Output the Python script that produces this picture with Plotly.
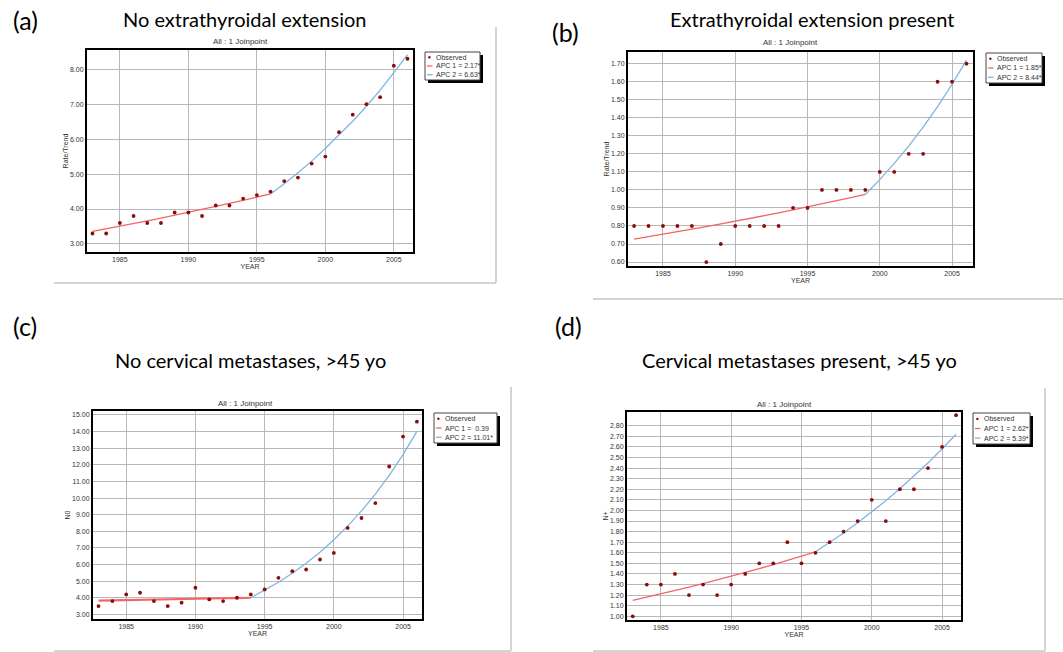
import plotly.graph_objects as go

W, H = 1063, 652

# ---------------- data ----------------
years = list(range(1983, 2007))
x_tick_vals = [1985, 1990, 1995, 2000, 2005]

# (a) No extrathyroidal extension
obs_a = [3.3, 3.3, 3.6, 3.8, 3.6, 3.6, 3.9, 3.9, 3.8, 4.1, 4.1, 4.3,
         4.4, 4.5, 4.8, 4.9, 5.3, 5.5, 6.2, 6.7, 7.0, 7.2, 8.1, 8.3]
seg1_years_a = list(range(1983, 1997))
seg1_a = [3.36, 3.43, 3.51, 3.58, 3.66, 3.74, 3.82, 3.90, 3.99, 4.07, 4.16, 4.25, 4.34, 4.43]
seg2_years_a = list(range(1996, 2007))
seg2_a = [4.43, 4.72, 5.04, 5.37, 5.73, 6.11, 6.51, 6.94, 7.40, 7.90, 8.42]
yticks_a = [3.0, 4.0, 5.0, 6.0, 7.0, 8.0]
apc_a = ["APC 1 = 2.17*", "APC 2 = 6.63*"]

# (b) Extrathyroidal extension present
obs_b = [0.8, 0.8, 0.8, 0.8, 0.8, 0.6, 0.7, 0.8, 0.8, 0.8, 0.8, 0.9,
         0.9, 1.0, 1.0, 1.0, 1.0, 1.1, 1.1, 1.2, 1.2, 1.6, 1.6, 1.7]
seg1_years_b = list(range(1983, 2000))
seg1_b = [0.727, 0.740, 0.754, 0.768, 0.782, 0.797, 0.811, 0.826, 0.842,
          0.857, 0.873, 0.889, 0.906, 0.923, 0.940, 0.957, 0.975]
seg2_years_b = list(range(1999, 2007))
seg2_b = [0.975, 1.057, 1.147, 1.243, 1.348, 1.462, 1.586, 1.720]
yticks_b = [0.6, 0.7, 0.8, 0.9, 1.0, 1.1, 1.2, 1.3, 1.4, 1.5, 1.6, 1.7]
apc_b = ["APC 1 = 1.85*", "APC 2 = 8.44*"]

# (c) No cervical metastases, >45 yo
obs_c = [3.5, 3.8, 4.2, 4.3, 3.8, 3.5, 3.7, 4.6, 3.9, 3.8, 4.0, 4.2,
         4.5, 5.2, 5.6, 5.7, 6.3, 6.7, 8.2, 8.8, 9.7, 11.9, 13.7, 14.6]
seg1_years_c = list(range(1983, 1995))
seg1_c = [3.83, 3.85, 3.86, 3.88, 3.89, 3.91, 3.92, 3.94, 3.95, 3.97, 3.98, 4.00]
seg2_years_c = list(range(1994, 2007))
seg2_c = [4.00, 4.44, 4.93, 5.47, 6.07, 6.74, 7.49, 8.31, 9.23, 10.24, 11.37, 12.62, 14.01]
yticks_c = [3.0, 4.0, 5.0, 6.0, 7.0, 8.0, 9.0, 10.0, 11.0, 12.0, 13.0, 14.0, 15.0]
apc_c = ["APC 1 =  0.39", "APC 2 = 11.01*"]

# (d) Cervical metastases present, >45 yo
obs_d = [1.0, 1.3, 1.3, 1.4, 1.2, 1.3, 1.2, 1.3, 1.4, 1.5, 1.5, 1.7,
         1.5, 1.6, 1.7, 1.8, 1.9, 2.1, 1.9, 2.2, 2.2, 2.4, 2.6, 2.9]
seg1_years_d = list(range(1983, 1997))
seg1_d = [1.150, 1.180, 1.211, 1.243, 1.275, 1.309, 1.343, 1.378, 1.414,
          1.451, 1.489, 1.528, 1.568, 1.609]
seg2_years_d = list(range(1996, 2007))
seg2_d = [1.609, 1.696, 1.787, 1.884, 1.985, 2.092, 2.205, 2.324, 2.449, 2.581, 2.720]
yticks_d = [1.0, 1.1, 1.2, 1.3, 1.4, 1.5, 1.6, 1.7, 1.8, 1.9, 2.0, 2.1,
            2.2, 2.3, 2.4, 2.5, 2.6, 2.7, 2.8]
apc_d = ["APC 1 = 2.62*", "APC 2 = 5.39*"]

# ---------------- styling / layout ----------------
OBS_COLOR = "#8b0a0a"
RED = "#f46464"
BLUE = "#80b4e2"
TXT = "#333333"
SMALL_FONT = "Liberation Sans, Arial, sans-serif"
BIG_FONT = "Lato, Noto Sans, sans-serif"


def fx(px):
    return px / W


def fy(py):
    return 1 - py / H


panels = [
    dict(label="(a)", label_xy=(25, 20), title="No extrathyroidal extension", title_xy=(244, 19),
         sub_xy=(240, 42), box=(87, 50, 413, 252), xr=[1982.6, 2006.4], yr=[2.77, 8.55],
         obs=obs_a, s1x=seg1_years_a, s1=seg1_a, s2x=seg2_years_a, s2=seg2_a,
         yt=yticks_a, ytitle="Rate/Trend", apc=apc_a, leg=(425, 52, 480, 80), red_w=1.3,
         frame=[((54, 283), (496, 283)), ((496, 27), (496, 283))]),
    dict(label="(b)", label_xy=(565, 32), title="Extrathyroidal extension present", title_xy=(812, 19),
         sub_xy=(790, 43), box=(628, 52, 973, 266), xr=[1982.58, 2006.45], yr=[0.578, 1.765],
         obs=obs_b, s1x=seg1_years_b, s1=seg1_b, s2x=seg2_years_b, s2=seg2_b,
         yt=yticks_b, ytitle="Rate/Trend", apc=apc_b, leg=(986, 53, 1042, 83), red_w=1.3,
         frame=[((593, 299), (1063, 299))]),
    dict(label="(c)", label_xy=(25, 326), title="No cervical metastases, >45 yo", title_xy=(250, 360),
         sub_xy=(245, 403), box=(93, 411, 422, 619), xr=[1982.6, 2006.37], yr=[2.72, 15.24],
         obs=obs_c, s1x=seg1_years_c, s1=seg1_c, s2x=seg2_years_c, s2=seg2_c,
         yt=yticks_c, ytitle="N0", apc=apc_c, leg=(434, 413, 497, 443), red_w=2.2,
         frame=[((54, 651), (511, 651)), ((511, 387), (511, 651))]),
    dict(label="(d)", label_xy=(568, 326), title="Cervical metastases present, >45 yo", title_xy=(799, 360),
         sub_xy=(784, 404), box=(627, 412, 961, 620), xr=[1982.59, 2006.35], yr=[0.965, 2.93],
         obs=obs_d, s1x=seg1_years_d, s1=seg1_d, s2x=seg2_years_d, s2=seg2_d,
         yt=yticks_d, ytitle="N+", apc=apc_d, leg=(973, 413, 1030, 444), red_w=1.3,
         frame=[((593, 651), (1045, 651)), ((1045, 388), (1045, 651))]),
]

fig = go.Figure()
shapes = []
annotations = []
layout_axes = {}

for i, p in enumerate(panels):
    n = i + 1
    xa = "x" if n == 1 else f"x{n}"
    ya = "y" if n == 1 else f"y{n}"
    x0, y0, x1, y1 = p["box"]

    fig.add_trace(go.Scatter(x=p["s1x"], y=p["s1"], mode="lines",
                             line=dict(color=RED, width=p["red_w"]),
                             xaxis=xa, yaxis=ya, showlegend=False, hoverinfo="skip"))
    fig.add_trace(go.Scatter(x=p["s2x"], y=p["s2"], mode="lines",
                             line=dict(color=BLUE, width=1.3),
                             xaxis=xa, yaxis=ya, showlegend=False, hoverinfo="skip"))
    fig.add_trace(go.Scatter(x=years, y=p["obs"], mode="markers",
                             marker=dict(color=OBS_COLOR, size=3.8, symbol="circle"),
                             xaxis=xa, yaxis=ya, showlegend=False))

    axis_common = dict(showline=True, linecolor="black", linewidth=2, mirror=True,
                       showgrid=True, gridcolor="#b8b8b8", gridwidth=1,
                       zeroline=False, ticks="", ticklen=0,
                       tickfont=dict(family=SMALL_FONT, size=7, color=TXT))
    xkey = "xaxis" if n == 1 else f"xaxis{n}"
    ykey = "yaxis" if n == 1 else f"yaxis{n}"
    layout_axes[xkey] = dict(axis_common, domain=[fx(x0), fx(x1)], range=p["xr"],
                             anchor=ya, tickvals=x_tick_vals,
                             ticktext=[str(v) for v in x_tick_vals],
                             title=dict(text="YEAR", standoff=1,
                                        font=dict(family=SMALL_FONT, size=7, color=TXT)))
    layout_axes[ykey] = dict(axis_common, domain=[fy(y1), fy(y0)], range=p["yr"],
                             anchor=xa, tickvals=p["yt"],
                             ticktext=[f"{v:.2f}" for v in p["yt"]],
                             title=dict(text=p["ytitle"], standoff=1,
                                        font=dict(family=SMALL_FONT, size=7, color=TXT)))

    # panel label & titles
    annotations.append(dict(text=p["label"], x=fx(p["label_xy"][0]), y=fy(p["label_xy"][1]),
                            xref="paper", yref="paper", showarrow=False,
                            xanchor="center", yanchor="middle",
                            font=dict(family=BIG_FONT, size=25, color="black")))
    annotations.append(dict(text=p["title"], x=fx(p["title_xy"][0]), y=fy(p["title_xy"][1]),
                            xref="paper", yref="paper", showarrow=False,
                            xanchor="center", yanchor="middle",
                            font=dict(family=BIG_FONT, size=20, color="black")))
    annotations.append(dict(text="All : 1 Joinpoint", x=fx(p["sub_xy"][0]), y=fy(p["sub_xy"][1]),
                            xref="paper", yref="paper", showarrow=False,
                            xanchor="center", yanchor="middle",
                            font=dict(family=SMALL_FONT, size=8, color=TXT)))

    # outer light-gray picture frame
    for (a, b) in p["frame"]:
        shapes.append(dict(type="line", xref="paper", yref="paper",
                           x0=fx(a[0]), y0=fy(a[1]), x1=fx(b[0]), y1=fy(b[1]),
                           line=dict(color="#d4d4d4", width=2)))

    # custom legend box with shadow
    lx0, ly0, lx1, ly1 = p["leg"]
    shapes.append(dict(type="rect", xref="paper", yref="paper",
                       x0=fx(lx0 + 3), y0=fy(ly1 + 3), x1=fx(lx1 + 3), y1=fy(ly0 + 3),
                       fillcolor="black", line=dict(width=0)))
    shapes.append(dict(type="rect", xref="paper", yref="paper",
                       x0=fx(lx0), y0=fy(ly1), x1=fx(lx1), y1=fy(ly0),
                       fillcolor="white", line=dict(color="#444444", width=1)))
    hgt = ly1 - ly0
    rows = [ly0 + hgt * 0.19, ly0 + hgt * 0.5, ly0 + hgt * 0.81]
    shapes.append(dict(type="circle", xref="paper", yref="paper",
                       x0=fx(lx0 + 3.2), x1=fx(lx0 + 5.6), y0=fy(rows[0] + 1.2), y1=fy(rows[0] - 1.2),
                       fillcolor=OBS_COLOR, line=dict(width=0)))
    shapes.append(dict(type="line", xref="paper", yref="paper",
                       x0=fx(lx0 + 2), x1=fx(lx0 + 7.5), y0=fy(rows[1]), y1=fy(rows[1]),
                       line=dict(color=RED, width=1.3)))
    shapes.append(dict(type="line", xref="paper", yref="paper",
                       x0=fx(lx0 + 2), x1=fx(lx0 + 7.5), y0=fy(rows[2]), y1=fy(rows[2]),
                       line=dict(color=BLUE, width=1.3)))
    for txt, ry in zip(["Observed"] + p["apc"], rows):
        annotations.append(dict(text=txt, x=fx(lx0 + 9), y=fy(ry), xref="paper", yref="paper",
                                showarrow=False, xanchor="left", yanchor="middle",
                                font=dict(family=SMALL_FONT, size=7, color=TXT)))

fig.update_layout(
    width=W, height=H,
    margin=dict(l=0, r=0, t=0, b=0),
    paper_bgcolor="white", plot_bgcolor="white",
    showlegend=False,
    shapes=shapes, annotations=annotations,
    **layout_axes,
)

fig.write_html("out.html",
               config={"displayModeBar": False},
               post_script="document.body.style.margin='0';document.body.style.padding='0';")
